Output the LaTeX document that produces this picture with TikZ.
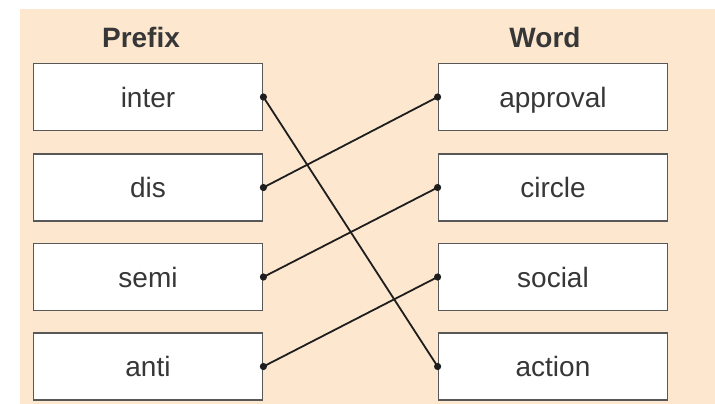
\documentclass[tikz,border=0pt]{standalone}
\usepackage{fontspec}
\setmainfont{Liberation Sans}
\definecolor{peach}{RGB}{253,232,207}
\definecolor{boxline}{RGB}{88,88,88}
\definecolor{txt}{RGB}{55,55,55}
\definecolor{linkcol}{RGB}{30,30,30}
\begin{document}
\begin{tikzpicture}[x=1pt,y=-1pt,
  item/.style={draw=boxline, line width=1.8pt, fill=white, minimum width=229pt,
    minimum height=67pt, inner sep=0pt, text height=21pt, text depth=1pt,
    font=\fontsize{28}{32}\selectfont, text=txt},
  head/.style={font=\bfseries\fontsize{28}{32}\selectfont, text=txt},
  link/.style={line width=1.8pt, draw=linkcol},
  enddot/.style={fill=linkcol}]
\useasboundingbox (0,0) rectangle (715,404);
\fill[peach] (20,9) rectangle (716,405);
\node[head] (hprefix) at (141,37) {Prefix};
\node[head] (hword) at (545,37) {Word};
\node[item] (inter) at (148,97) {inter};
\node[item] (dis) at (148,187.5) {dis};
\node[item] (semi) at (148,277) {semi};
\node[item] (anti) at (148,366.5) {anti};
\node[item] (approval) at (553,97) {approval};
\node[item] (circle) at (553,187.5) {circle};
\node[item] (social) at (553,277) {social};
\node[item] (action) at (553,366.5) {action};
\draw[link] (inter.east) -- (action.west);
\draw[link] (dis.east) -- (approval.west);
\draw[link] (semi.east) -- (circle.west);
\draw[link] (anti.east) -- (social.west);
\foreach \n in {inter,dis,semi,anti}
  \fill[enddot] (\n.east) circle (3.6pt);
\foreach \n in {approval,circle,social,action}
  \fill[enddot] (\n.west) circle (3.6pt);
\end{tikzpicture}
\end{document}
